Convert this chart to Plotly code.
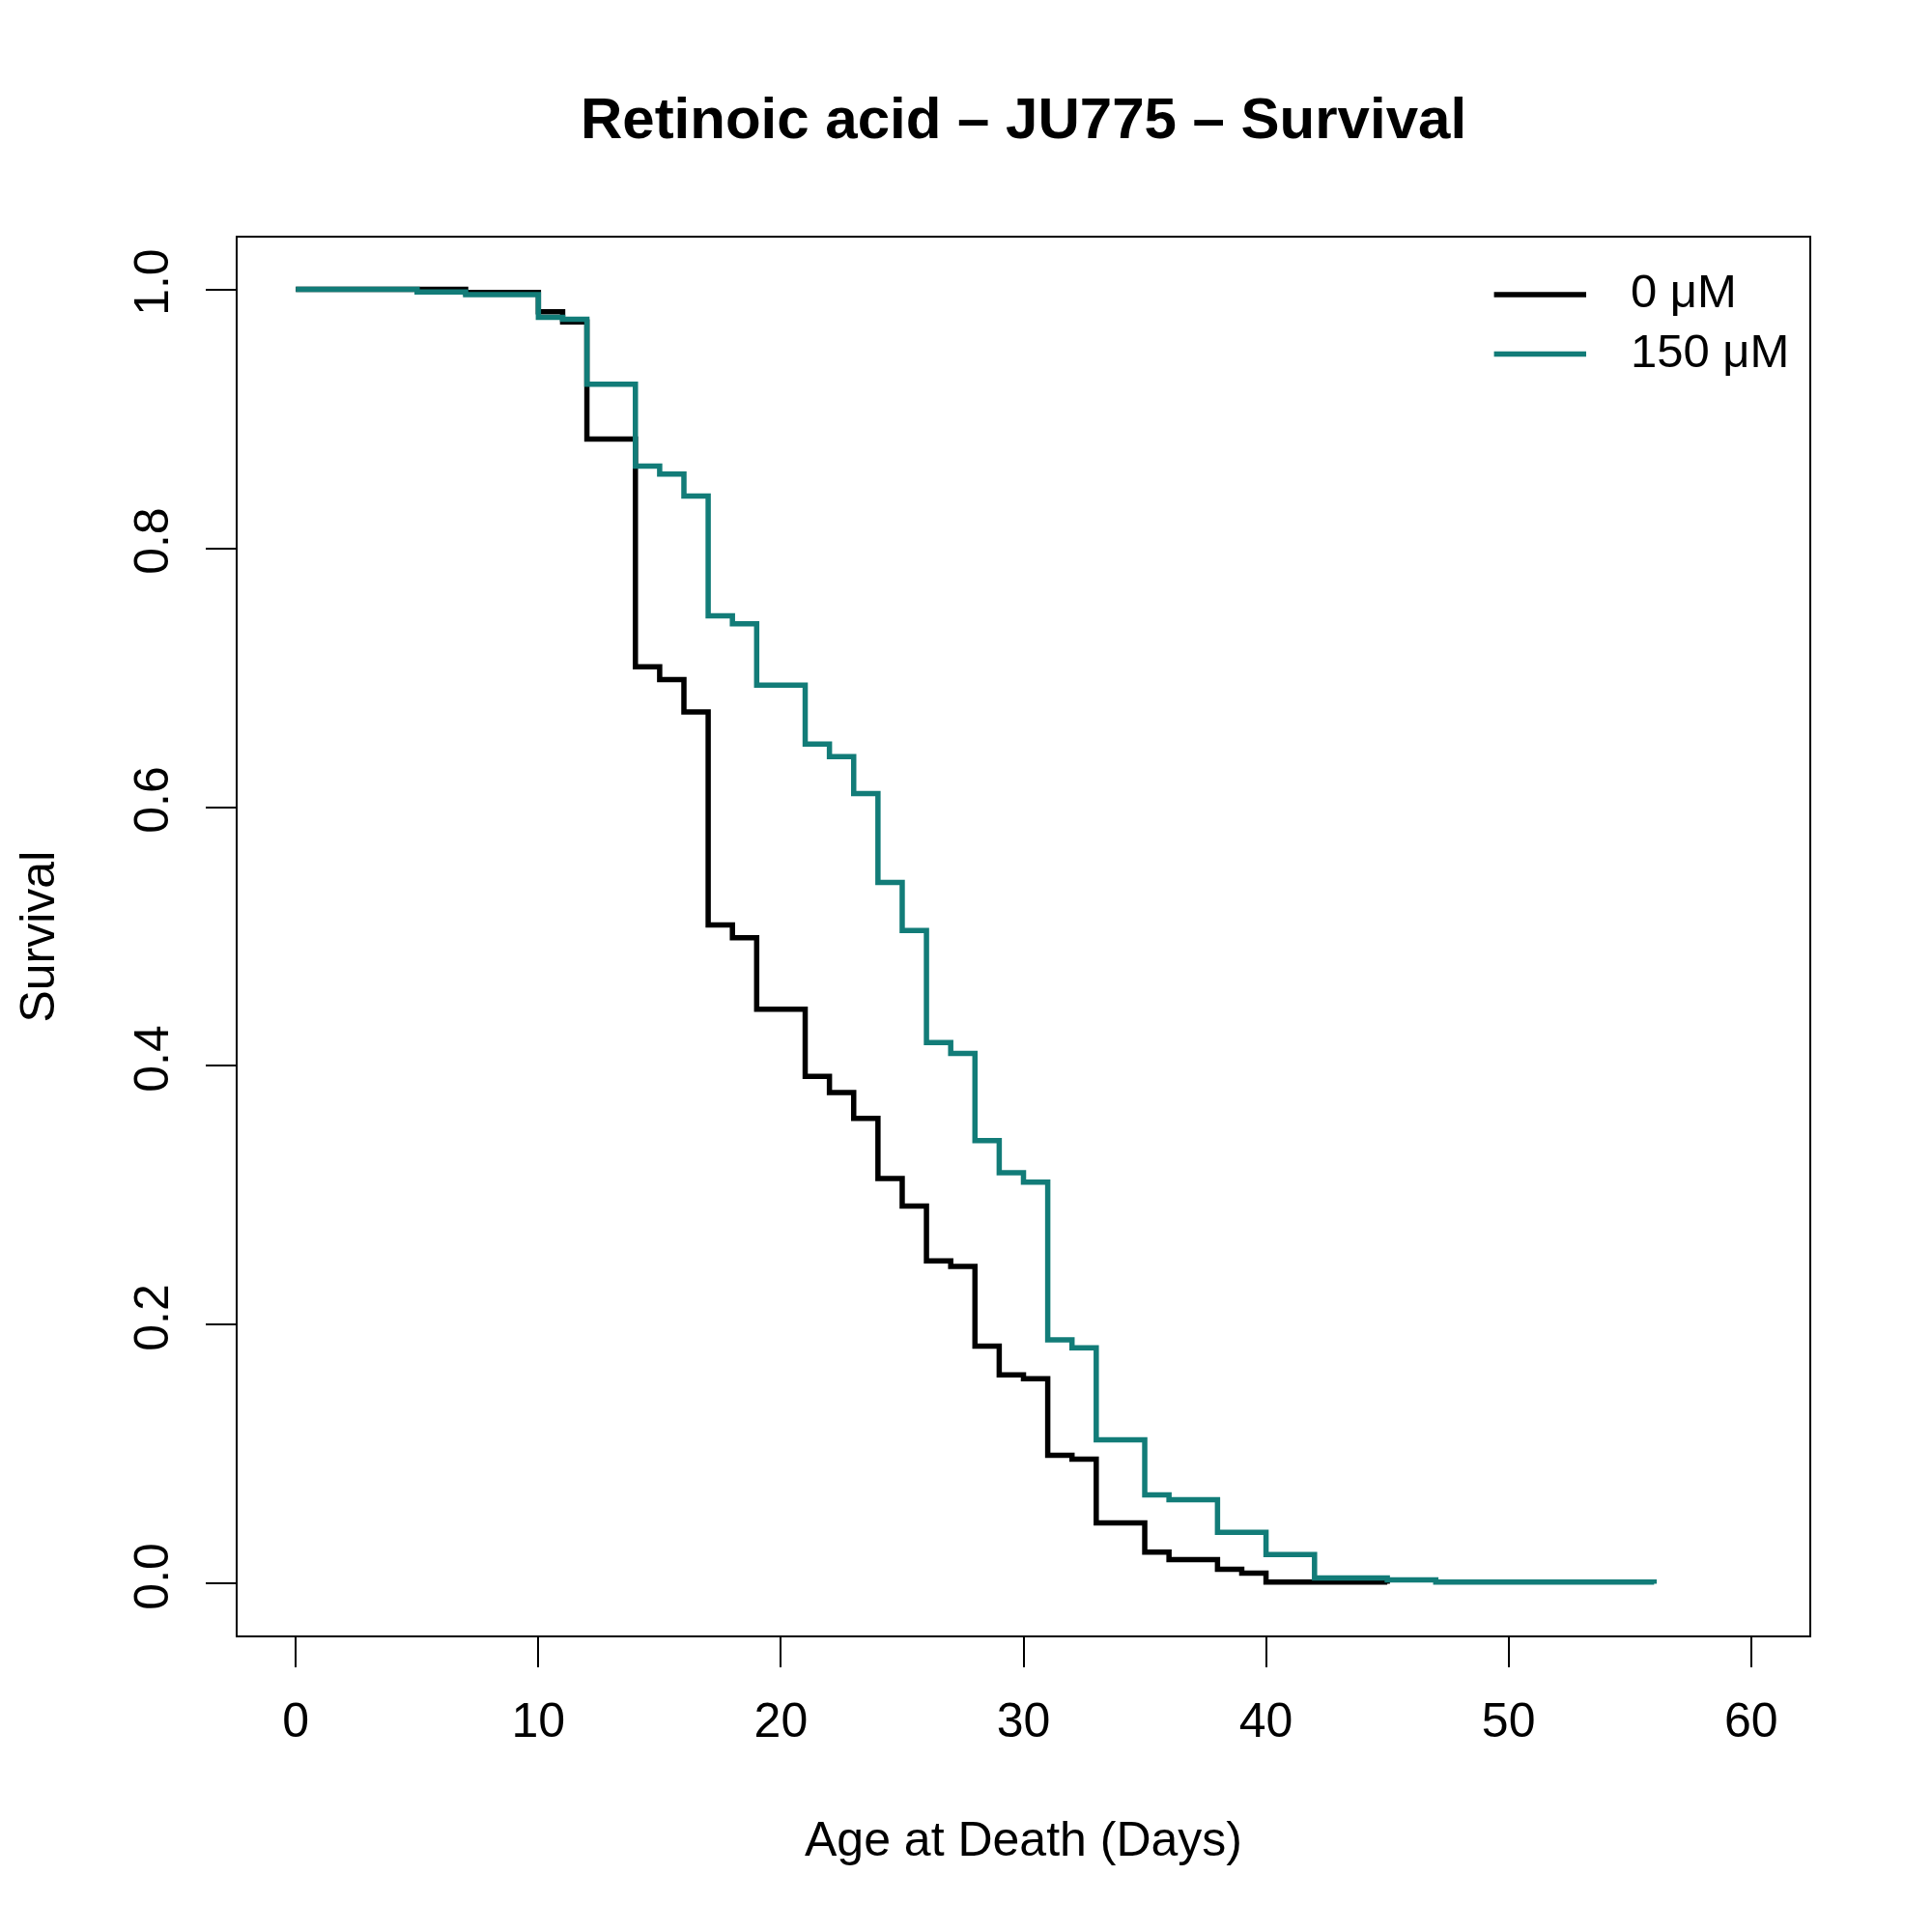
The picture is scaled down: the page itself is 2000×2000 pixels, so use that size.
import plotly.graph_objects as go

# survival curves (Kaplan-Meier style steps)
days_ctrl = [0, 7, 10, 11, 12, 14, 15, 16, 17, 18, 19, 21, 22, 23, 24, 25, 26, 27, 28, 29,
             30, 31, 32, 33, 35, 36, 38, 39, 40, 45]
surv_ctrl = [1.0, 0.9976, 0.9827, 0.9748, 0.8844, 0.7085, 0.6985, 0.6736, 0.5089, 0.4991,
             0.4439, 0.3919, 0.3795, 0.3595, 0.3130, 0.2918, 0.2494, 0.2451, 0.1836, 0.1613,
             0.1584, 0.0992, 0.0963, 0.0469, 0.0243, 0.0185, 0.0111, 0.0082, 0.0013, 0.0]

days_ra = [0, 5, 7, 10, 11, 12, 14, 15, 16, 17, 18, 19, 21, 22, 23, 24, 25, 26, 27, 28,
           29, 30, 31, 32, 33, 35, 36, 38, 40, 42, 45, 47, 56]
surv_ra = [1.0, 0.998, 0.996, 0.9785, 0.977, 0.9267, 0.8635, 0.8573, 0.8404, 0.7478,
           0.7416, 0.6943, 0.6488, 0.6390, 0.6104, 0.5418, 0.5046, 0.4181, 0.4096, 0.3424,
           0.3175, 0.3103, 0.1884, 0.1822, 0.1112, 0.0686, 0.0649, 0.0397, 0.0225, 0.0045,
           0.003, 0.0013, 0.0]

series_names = ["0 \u03bcM", "150 \u03bcM"]
series_colors = ["#000000", "#127C78"]

x_ticks = [0, 10, 20, 30, 40, 50, 60]
y_ticks = [0.0, 0.2, 0.4, 0.6, 0.8, 1.0]
y_ticktext = ["0.0", "0.2", "0.4", "0.6", "0.8", "1.0"]

FONT = "Liberation Sans, Arial, Helvetica, sans-serif"
LW = 5.5

fig = go.Figure()
for xs, ys, name, col in [(days_ctrl, surv_ctrl, series_names[0], series_colors[0]),
                          (days_ra, surv_ra, series_names[1], series_colors[1])]:
    fig.add_trace(go.Scatter(x=xs, y=ys, mode="lines", name=name,
                             line=dict(color=col, width=LW, shape="hv"),
                             showlegend=False))

# hand-made legend (R style: long line + label)
leg_y = [0.996, 0.950]
for i in range(2):
    fig.add_shape(type="line", xref="x", yref="y", x0=49.4, x1=53.2, y0=leg_y[i], y1=leg_y[i],
                  line=dict(color=series_colors[i], width=LW))
    fig.add_annotation(x=54.95, y=leg_y[i] + 0.003, xref="x", yref="y", text=series_names[i],
                       showarrow=False, xanchor="left", yanchor="middle",
                       font=dict(family=FONT, size=49, color="black"))

fig.add_annotation(x=0.5, y=-0.1458, xref="paper", yref="paper", text="Age at Death (Days)",
                   showarrow=False, xanchor="center", yanchor="middle",
                   font=dict(family=FONT, size=50, color="black"))
fig.add_annotation(x=-0.1278, y=0.5, xref="paper", yref="paper", text="Survival",
                   showarrow=False, xanchor="center", yanchor="middle", textangle=-90,
                   font=dict(family=FONT, size=50, color="black"))

fig.update_layout(
    width=2000, height=2000, autosize=False,
    margin=dict(l=238, r=135, t=238, b=315),
    paper_bgcolor="white", plot_bgcolor="white",
    title=dict(text="<b>Retinoic acid \u2013 JU775 \u2013 Survival</b>",
               x=0.5, xref="paper", y=1 - 114 / 2000, yref="container",
               xanchor="center", yanchor="middle",
               font=dict(family=FONT, size=60, color="black")),
)
fig.update_xaxes(range=[-2.4, 62.4], tickvals=x_ticks, ticks="outside", ticklen=31,
                 tickwidth=2, tickcolor="black", showline=True, linewidth=2, linecolor="black",
                 mirror=True, showgrid=False, zeroline=False, ticklabelstandoff=12,
                 tickfont=dict(family=FONT, size=50, color="black"))
fig.update_yaxes(range=[-0.04, 1.04], tickvals=y_ticks, ticktext=y_ticktext, tickangle=-90,
                 ticks="outside", ticklen=31, tickwidth=2, tickcolor="black",
                 showline=True, linewidth=2, linecolor="black", mirror=True,
                 showgrid=False, zeroline=False, ticklabelstandoff=19,
                 tickfont=dict(family=FONT, size=50, color="black"))

fig.write_html("out.html")
